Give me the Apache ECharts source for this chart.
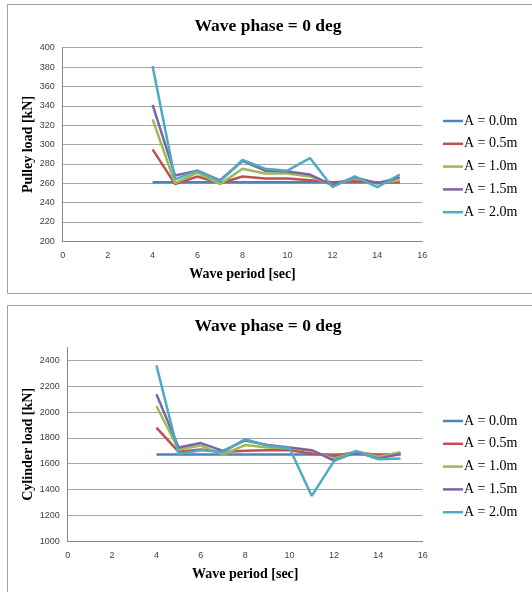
<!DOCTYPE html>
<html>
<head>
<meta charset="utf-8">
<script src="https://cdn.jsdelivr.net/npm/echarts@6/dist/echarts.min.js"></script>
<style>
html,body{margin:0;padding:0;background:#fff;}
#c{width:532px;height:592px;}
</style>
</head>
<body>
<div id="c"></div>
<script>
const periods = [4, 5, 6, 7, 8, 9, 10, 11, 12, 13, 14, 15];
const seriesNames = ['A = 0.0m', 'A = 0.5m', 'A = 1.0m', 'A = 1.5m', 'A = 2.0m'];
const colors = ['#4F81BD', '#C0504D', '#9BBB59', '#8064A2', '#4BACC6'];

const pulleyA00 = [261, 261, 261, 261, 261, 261, 261, 261, 261, 261, 261, 261];
const pulleyA05 = [295, 259, 267, 260, 267, 265, 265, 263, 261, 262, 261, 261];
const pulleyA10 = [326, 260, 271, 259, 275, 270, 270, 267, 258, 265, 260, 263];
const pulleyA15 = [341, 268, 273, 263, 283, 273, 272, 269, 258, 266, 260, 266];
const pulleyA20 = [381, 264, 273, 262, 284, 275, 273, 286, 256, 267, 256, 269];

const cylA00 = [1672, 1672, 1672, 1672, 1672, 1672, 1672, 1672, 1672, 1672, 1672, 1672];
const cylA05 = [1879, 1692, 1710, 1690, 1700, 1705, 1705, 1680, 1660, 1690, 1665, 1680];
const cylA10 = [2047, 1710, 1740, 1670, 1745, 1725, 1720, 1700, 1640, 1695, 1655, 1690];
const cylA15 = [2137, 1725, 1760, 1700, 1780, 1745, 1725, 1705, 1625, 1690, 1640, 1675];
const cylA20 = [2361, 1675, 1705, 1690, 1790, 1740, 1720, 1351, 1620, 1700, 1635, 1640];

const titleText = 'Wave phase = 0 deg';
const xName = 'Wave period [sec]';
const yNames = ['Pulley load [kN]', 'Cylinder load [kN]'];

const pulley = [pulleyA00, pulleyA05, pulleyA10, pulleyA15, pulleyA20];
const cyl = [cylA00, cylA05, cylA10, cylA15, cylA20];

const serif = '"Liberation Serif", "Times New Roman", serif';
const sans = '"Liberation Sans", Arial, sans-serif';

function mkSeries(arr, idx) {
  return arr.map((vals, i) => ({
    name: seriesNames[i],
    type: 'line',
    xAxisIndex: idx, yAxisIndex: idx,
    symbol: 'none',
    color: colors[i],
    lineStyle: {width: 2.5, color: colors[i]},
    data: periods.map((p, k) => [p, vals[k]]),
    animation: false
  }));
}

const axisLineStyle = {show: true, lineStyle: {color: '#868686', width: 1}};
const gridLine = {show: true, lineStyle: {color: '#A6A6A6', width: 1}};
const tickLabel = {color: '#404040', fontSize: 9, fontFamily: sans, formatter: v => String(v)};
const nameStyle = {color: '#000', fontSize: 14, fontWeight: 'bold', fontFamily: serif};

function xAxis(idx) {
  return {
    gridIndex: idx, type: 'value', min: 0, max: 16, interval: 2,
    axisLine: axisLineStyle, axisTick: {show: false}, splitLine: {show: false},
    axisLabel: Object.assign({margin: 10}, tickLabel),
    name: xName, nameLocation: 'middle', nameGap: 26, nameMoveOverlap: false, nameTextStyle: nameStyle
  };
}

function legend(top) {
  return {orient: 'vertical', left: 438, top: top, icon: 'rect', itemWidth: 20, itemHeight: 2.5, itemGap: 6.8,
    data: seriesNames, textStyle: {fontFamily: serif, fontSize: 14, color: '#000', lineHeight: 16, padding: [0, 0, 0, -4]}};
}

const titleStyle = {fontFamily: serif, fontSize: 17.5, fontWeight: 'bold', color: '#000'};

const option = {
  animation: false,
  backgroundColor: '#fff',
  title: [
    {text: titleText, left: 263, top: 12, textAlign: 'center', textStyle: titleStyle},
    {text: titleText, left: 263, top: 312, textAlign: 'center', textStyle: titleStyle}
  ],
  graphic: [
    {type: 'rect', shape: {x: 7.5, y: 4.5, width: 540, height: 289}, style: {fill: 'none', stroke: '#A0A0A0', lineWidth: 1}, silent: true, z: -1},
    {type: 'rect', shape: {x: 7.5, y: 305.5, width: 540, height: 300}, style: {fill: 'none', stroke: '#A0A0A0', lineWidth: 1}, silent: true, z: -1}
  ],
  legend: [legend(108), legend(408)],
  grid: [
    {left: 62.7, top: 47.7, width: 359.6, height: 193.6},
    {left: 67.7, top: 347.4, width: 355, height: 193.9}
  ],
  xAxis: [xAxis(0), xAxis(1)],
  yAxis: [
    {gridIndex: 0, type: 'value', min: 200, max: 400, interval: 20,
     axisLine: axisLineStyle, axisTick: {show: false}, splitLine: gridLine,
     axisLabel: Object.assign({margin: 8}, tickLabel),
     name: yNames[0], nameLocation: 'middle', nameRotate: 90, nameGap: 27, nameMoveOverlap: false, nameTextStyle: nameStyle},
    {gridIndex: 1, type: 'value', min: 1000, max: 2500, interval: 200,
     axisLine: axisLineStyle, axisTick: {show: false},
     splitLine: Object.assign({showMaxLine: false}, gridLine),
     axisLabel: Object.assign({margin: 8, showMaxLabel: false}, tickLabel),
     name: yNames[1], nameLocation: 'middle', nameRotate: 90, nameGap: 32, nameMoveOverlap: false, nameTextStyle: nameStyle}
  ],
  series: mkSeries(pulley, 0).concat(mkSeries(cyl, 1))
};

const chart = echarts.init(document.getElementById('c'), null, {renderer: 'canvas'});
chart.setOption(option);
</script>
</body>
</html>
